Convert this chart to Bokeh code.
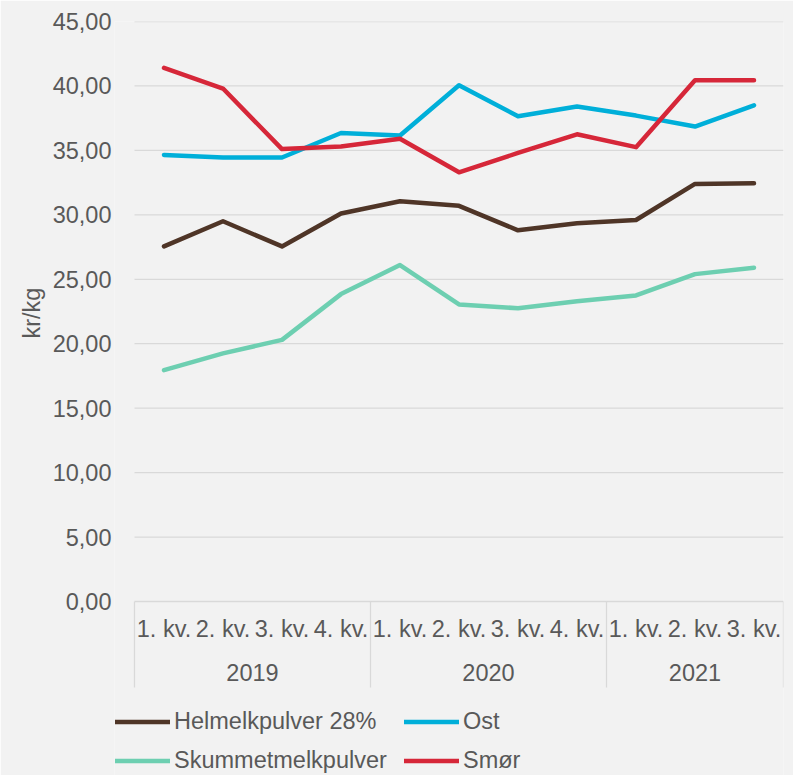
from bokeh.plotting import figure
from bokeh.models import Range1d, FixedTicker, Legend, LegendItem, Title
from bokeh.core.properties import value
from bokeh.embed import file_html
from bokeh.resources import INLINE

# ---- data ----
years = ["2019", "2019", "2019", "2019",
         "2020", "2020", "2020", "2020",
         "2021", "2021", "2021"]
quarters = ["1. kv.", "2. kv.", "3. kv.", "4. kv.",
            "1. kv.", "2. kv.", "3. kv.", "4. kv.",
            "1. kv.", "2. kv.", "3. kv."]
helmelk = [27.55, 29.50, 27.55, 30.10, 31.05, 30.70, 28.80, 29.35, 29.60, 32.40, 32.45]
ost = [34.65, 34.45, 34.45, 36.35, 36.15, 40.05, 37.65, 38.40, 37.70, 36.85, 38.50]
skummet = [17.95, 19.25, 20.30, 23.85, 26.10, 23.05, 22.75, 23.30, 23.75, 25.40, 25.90]
smor = [41.40, 39.80, 35.10, 35.30, 35.90, 33.30, 34.80, 36.25, 35.25, 40.45, 40.45]
series_names = ["Helmelkpulver 28%", "Ost", "Skummetmelkpulver", "Smør"]
series_colors = ["#4f3527", "#00afd9", "#6dcfb1", "#d62739"]
y_ticks = [0, 5, 10, 15, 20, 25, 30, 35, 40, 45]
y_label = "kr/kg"

# ---- styling / layout constants (pixels) ----
BG = "#f2f2f2"
GRID = "#d9d9d9"
TXT = "#595959"
FONT = "Liberation Sans"
FS = "23.5px"
W, H = 793, 775
FRAME_L, PLOT_L, PLOT_R = 114, 134, 783
PLOT_T, PLOT_B = 21, 601
SEP_PX = 86          # depth of category separators below the axis
QLAB_PX = 27         # quarter labels below the axis
YLAB_PX = 71         # year labels below the axis
YTITLE_BOTTOM = 338  # lower end of the rotated y-axis title

n = len(quarters)
xs = list(range(n))
ymin, ymax = y_ticks[0], y_ticks[-1]

px_x = (PLOT_R - PLOT_L) / n
px_y = (PLOT_B - PLOT_T) / (ymax - ymin)
x_start = -0.5 - (PLOT_L - FRAME_L) / px_x
x_end = n - 0.5
y_start = ymin - (H - PLOT_B) / px_y

p = figure(width=W, height=H, output_backend="svg", toolbar_location=None,
           x_range=Range1d(x_start, x_end), y_range=Range1d(y_start, ymax),
           x_axis_location=None,
           min_border_left=FRAME_L, min_border_right=W - PLOT_R,
           min_border_top=PLOT_T, min_border_bottom=0,
           background_fill_color=BG, border_fill_color=BG,
           outline_line_color=None)
p.xgrid.visible = False
p.ygrid.visible = False

# y axis (real axis, bounded to the data range)
ya = p.yaxis[0]
ya.ticker = FixedTicker(ticks=y_ticks)
ya.bounds = (ymin, ymax)
ya.major_label_overrides = {t: f"{t:.2f}".replace(".", ",") for t in y_ticks}
ya.major_tick_out = 0
ya.major_tick_in = 0
ya.minor_tick_out = 0
ya.minor_tick_in = 0
ya.axis_line_color = None
ya.major_label_standoff = 3
ya.major_label_text_font = FONT
ya.major_label_text_font_size = FS
ya.major_label_text_color = TXT

# y-axis title, placed beside the 0..45 span of the axis
ytitle = Title(text=y_label, align="left", offset=H - YTITLE_BOTTOM, standoff=10,
               text_font=FONT, text_font_size=FS, text_font_style="normal",
               text_color=TXT)
p.add_layout(ytitle, "left")

# group boundaries and centres from the year list
bounds = [-0.5]
group_names = []
group_centers = []
start = 0
for i in range(1, n + 1):
    if i == n or years[i] != years[start]:
        group_names.append(years[start])
        group_centers.append((start + i - 1) / 2)
        bounds.append(i - 0.5)
        start = i

# horizontal gridlines across the category span
p.segment(x0=[bounds[0]] * len(y_ticks), x1=[bounds[-1]] * len(y_ticks),
          y0=y_ticks, y1=y_ticks, line_color=GRID, line_width=1.3)

# category separators
p.segment(x0=bounds, x1=bounds, y0=[ymin] * len(bounds),
          y1=[ymin - SEP_PX / px_y] * len(bounds), line_color=GRID, line_width=1.3)

# category labels
p.text(x=xs, y=[ymin - QLAB_PX / px_y] * n, text=quarters,
       text_align="center", text_baseline="middle",
       text_font=value(FONT), text_font_size=value(FS), text_color=TXT)
p.text(x=group_centers, y=[ymin - YLAB_PX / px_y] * len(group_centers), text=group_names,
       text_align="center", text_baseline="middle",
       text_font=value(FONT), text_font_size=value(FS), text_color=TXT)

renderers = []
for vals, name, col in zip([helmelk, ost, skummet, smor], series_names, series_colors):
    r = p.line(xs, vals, line_color=col, line_width=4.5,
               line_join="round", line_cap="round")
    renderers.append(r)

legend = Legend(items=[LegendItem(label=nm, renderers=[r]) for nm, r in zip(series_names, renderers)],
                location=(1, 1), orientation="horizontal", ncols=2,
                glyph_width=55, glyph_height=27, label_height=27, label_width=218,
                label_standoff=4, spacing=12, padding=0, margin=0,
                label_text_font=FONT, label_text_font_size=FS,
                label_text_color=TXT,
                background_fill_alpha=0, border_line_color=None)
p.add_layout(legend)

open("out.html", "w").write(file_html(p, INLINE))
